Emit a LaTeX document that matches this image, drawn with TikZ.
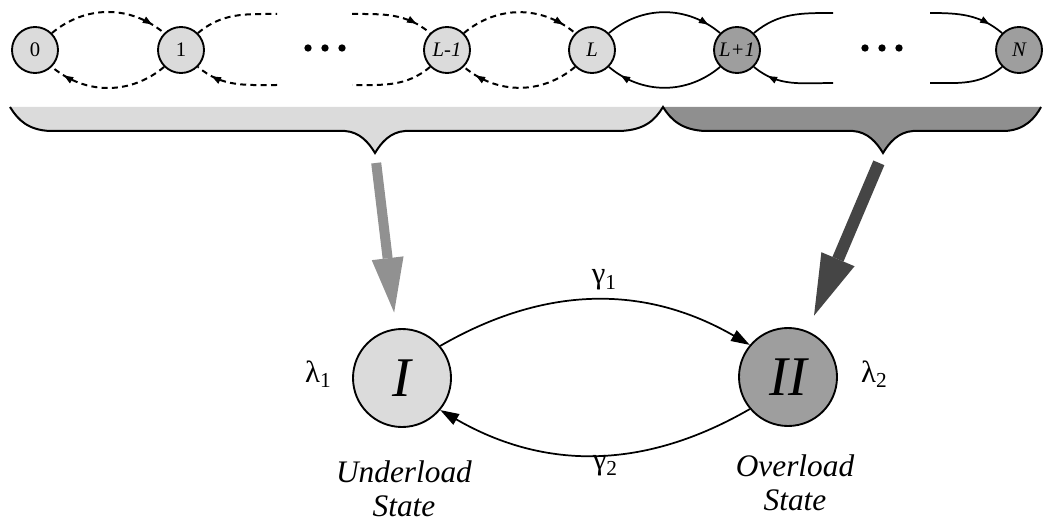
\documentclass[tikz,border=0pt]{standalone}
\usepackage{fontspec}
\setmainfont{Liberation Serif}
\usetikzlibrary{arrows.meta,decorations.markings}
\definecolor{lightfill}{gray}{0.86}
\definecolor{darkfill}{gray}{0.62}
\definecolor{bracedark}{gray}{0.56}
\definecolor{arrowL}{gray}{0.57}
\definecolor{arrowR}{gray}{0.27}
\begin{document}
\begin{tikzpicture}[x=0.75pt,y=-0.75pt,
  smallnode/.style={circle,draw,line width=1.4pt,minimum size=34.5pt,inner sep=0pt,
    font=\fontsize{15.5}{15.5}\selectfont},
  bignode/.style={circle,draw,line width=1.4pt,minimum size=73.5pt,inner sep=0pt,
    font=\fontsize{42}{42}\selectfont\itshape},
  dsh/.style={line width=1.5pt,dash pattern=on 4.5pt off 3.2pt},
  sld/.style={line width=1.3pt},
  tipmark/.style={postaction={decorate,decoration={markings,
    mark=at position #1 with {\arrow{Triangle[length=7pt,width=5pt]}}}}},
  bigarc/.style={line width=1.3pt,-{Triangle[length=14pt,width=9pt]}},
  fatarrow/.style={line cap=butt},
  lbl/.style={font=\fontsize{23.5}{25.5}\selectfont\itshape,align=center,inner sep=0pt},
  greek/.style={font=\fontsize{23}{23}\selectfont,inner sep=0pt},
  dotmark/.style={circle,fill,inner sep=0pt,minimum size=5.5pt}
]
\useasboundingbox (0,0) rectangle (1044,524);

% braces
\fill[lightfill] (10,107) -- (663,107) .. controls (655,120) and (645,130) .. (620,131)
  -- (405,131) .. controls (390,132) and (381,143) .. (375,153)
  .. controls (369,143) and (360,132) .. (345,131) -- (50,131)
  .. controls (28,130) and (18,120) .. (10,107) -- cycle;
\fill[bracedark] (663,107) -- (1041,107) .. controls (1035,118) and (1025,130) .. (1005,131)
  -- (913,131) .. controls (898,132) and (889,143) .. (883,153)
  .. controls (877,143) and (868,132) .. (853,131) -- (705,131)
  .. controls (682,130) and (671,120) .. (663,107) -- cycle;
\draw[line width=1.5pt] (10,107) .. controls (18,120) and (28,130) .. (50,131)
  -- (345,131) .. controls (360,132) and (369,143) .. (375,153)
  .. controls (381,143) and (390,132) .. (405,131) -- (620,131)
  .. controls (645,130) and (655,120) .. (663,107)
  .. controls (671,120) and (682,130) .. (705,131) -- (853,131)
  .. controls (868,132) and (877,143) .. (883,153)
  .. controls (889,143) and (898,132) .. (913,131) -- (1005,131)
  .. controls (1025,130) and (1035,118) .. (1041,107);
\coordinate (bL) at (375,153);
\coordinate (bR) at (883,153);

% top row nodes
\node[smallnode,fill=lightfill] (n0) at (35,50) {0};
\node[smallnode,fill=lightfill] (n1) at (181,50) {1};
\node[smallnode,fill=lightfill] (nL1) at (447,50) {\itshape L-1};
\node[smallnode,fill=lightfill] (nL) at (592,50) {\itshape L};
\node[smallnode,fill=darkfill] (nLp) at (737,50) {\itshape L+1};
\node[smallnode,fill=darkfill] (nN) at (1019,50) {\itshape N};

\node[dotmark] (d1) at (308,48) {};
\node[dotmark] (d2) at (325,48) {};
\node[dotmark] (d3) at (342,48) {};
\node[dotmark] (d4) at (865,48) {};
\node[dotmark] (d5) at (882,48) {};
\node[dotmark] (d6) at (899,48) {};

\coordinate (c1a) at (277,14);
\coordinate (c1b) at (277,85);
\coordinate (cL1a) at (352,14);
\coordinate (cL1b) at (352,85);
\coordinate (cLpa) at (833,13);
\coordinate (cLpb) at (833,83);
\coordinate (cNa) at (930,13);
\coordinate (cNb) at (930,83);

% dashed arcs
\draw[dsh,tipmark=0.88] (n0.45) to[out=40,in=140] (n1.135);
\draw[dsh,tipmark=0.88] (n1.-135) to[out=-140,in=-40] (n0.-45);
\draw[dsh] (n1.45) to[out=40,in=180] (c1a);
\draw[dsh,tipmark=0.8] (c1b) to[out=180,in=-40] (n1.-45);
\draw[dsh,tipmark=0.8] (cL1a) to[out=0,in=140] (nL1.135);
\draw[dsh] (nL1.-135) to[out=-140,in=0] (cL1b);
\draw[dsh,tipmark=0.88] (nL1.45) to[out=40,in=140] (nL.135);
\draw[dsh,tipmark=0.88] (nL.-135) to[out=-140,in=-40] (nL1.-45);
% solid arcs
\draw[sld,tipmark=0.88] (nL.45) to[out=40,in=140] (nLp.135);
\draw[sld,tipmark=0.88] (nLp.-135) to[out=-140,in=-40] (nL.-45);
\draw[sld] (nLp.45) to[out=40,in=180] (cLpa);
\draw[sld,tipmark=0.8] (cLpb) to[out=180,in=-40] (nLp.-45);
\draw[sld,tipmark=0.8] (cNa) to[out=0,in=140] (nN.135);
\draw[sld] (nN.-135) to[out=-140,in=0] (cNb);

% bottom states
\node[bignode,fill=lightfill] (I) at (402,378) {I};
\node[bignode,fill=darkfill] (II) at (788,377) {II};

\draw[bigarc] (I.40) to[out=30,in=150] (II.140);
\draw[bigarc] (II.-140) to[out=-150,in=-30] (I.-40);

% fat arrows
\draw[fatarrow,line width=7.5pt,draw=arrowL,
  -{Triangle[length=41pt,width=24pt,line width=0pt,fill=arrowL]},
  shorten <=7.5pt,shorten >=12pt] (bL) -- (I);
\draw[fatarrow,line width=9pt,draw=arrowR,
  -{Triangle[length=46pt,width=27pt,line width=0pt,fill=arrowR]},
  shorten <=8pt,shorten >=12.5pt] (bR) -- (II);

% labels
\node[greek] (g1) at (604,280) {γ\raisebox{-4pt}{\fontsize{16}{16}\selectfont 1}};
\node[greek] (g2) at (605,466) {γ\raisebox{-4pt}{\fontsize{16}{16}\selectfont 2}};
\node[greek] (l1) at (318,374) {λ\raisebox{-3.5pt}{\fontsize{16}{16}\selectfont 1}};
\node[greek] (l2) at (874,374) {λ\raisebox{-3.5pt}{\fontsize{16}{16}\selectfont 2}};

\node[lbl,anchor=base] (uls) at (404,516) {Underload\\State};
\node[lbl,anchor=base] (ols) at (795,510) {Overload\\State};
\end{tikzpicture}
\end{document}
